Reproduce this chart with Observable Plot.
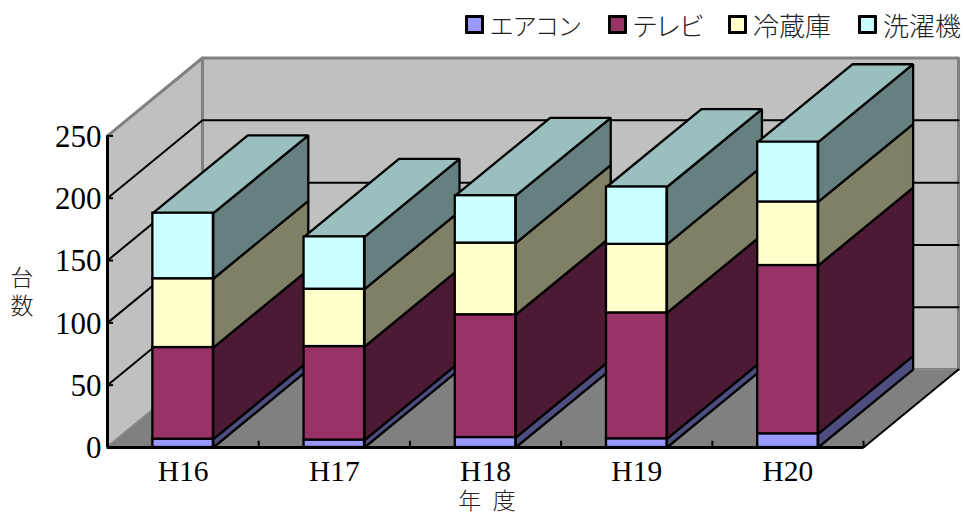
<!DOCTYPE html>
<html><head><meta charset="utf-8">
<script src="https://cdn.jsdelivr.net/npm/d3@7"></script>
<script src="https://cdn.jsdelivr.net/npm/@observablehq/plot@0.6"></script>
<style>
html,body{margin:0;padding:0;background:#fff}
#legend{height:40px;position:relative;font-family:"Noto Sans CJK JP";font-weight:300;color:#222;font-feature-settings:"palt"}
.it{position:absolute;top:9px;display:flex;align-items:center;height:30px}
.sw{width:13px;height:13px;border:3px solid #000;border-radius:1px;margin-right:6px;display:inline-block}
svg{display:block}
</style></head><body>
<div id="legend"></div><div id="chart"></div>
<script>
const years = ["H16","H17","H18","H19","H20"];
const seriesNames = ["エアコン","テレビ","冷蔵庫","洗濯機"];
const aircon = [6.7, 6, 8, 7, 11];
const tv = [73.5, 75, 98.5, 101, 135];
const fridge = [55.2, 46, 57.5, 55, 51];
const washer = [52.6, 42, 38, 46, 48];
const yTicks = [0,50,100,150,200,250];
const faceColors = ["#9999FF","#993366","#FFFFCC","#CCFFFF"];
const sideColors = ["#4D4D80","#4D1A33","#808066","#668080"];
const topColor = "#99BFBF";
const series = [aircon,tv,fridge,washer];

const depthX = 0.628, depthY = 62.5, barStart = 0.3, barEnd = 0.7, yMax = 250;

// table of stacked segments
const segments = [];
years.forEach((yr,i)=>{
  let base = 0;
  series.forEach((s,k)=>{
    segments.push({i,k,yr,y0:base,y1:base+s[i]});
    base += s[i];
  });
});

const poly = (id,fill,pts)=>pts.map(([x,y])=>({id,fill,x,y}));
const wall = [
  ...poly("back","#C0C0C0",[[depthX,depthY],[5+depthX,depthY],[5+depthX,yMax+depthY],[depthX,yMax+depthY]]),
  ...poly("left","#C0C0C0",[[0,0],[depthX,depthY],[depthX,yMax+depthY],[0,yMax]])
];
const floor = poly("floor","#808080",[[0,0],[5,0],[5+depthX,depthY],[depthX,depthY]]);
const grid = yTicks.slice(1,-1).flatMap(v=>[[0,v],[depthX,v+depthY],[5+depthX,v+depthY]].map(([x,y])=>({id:v,x,y})));
const floorEdge = [{x:5,y:0},{x:5+depthX,y:depthY}];

const line3d = (d)=>Plot.line(d,{x:"x",y:"y",z:"id",fill:"fill",stroke:"#000",strokeWidth:2.3,curve:"linear-closed",strokeLinejoin:"miter"});
const barMarks = years.flatMap((yr,i)=>{
  const segs = segments.filter(s=>s.i===i);
  const sides = segs.flatMap(s=>poly(`s${s.k}`,sideColors[s.k],[
    [i+barEnd,s.y0],[i+barEnd+depthX,s.y0+depthY],[i+barEnd+depthX,s.y1+depthY],[i+barEnd,s.y1]]));
  const t = segs[segs.length-1].y1;
  const top = poly("t",topColor,[[i+barStart,t],[i+barEnd,t],[i+barEnd+depthX,t+depthY],[i+barStart+depthX,t+depthY]]);
  return [
    line3d(sides), line3d(top),
    Plot.rectY(segs,{x1:()=>i+barStart,x2:()=>i+barEnd,y1:"y0",y2:"y1",fill:s=>faceColors[s.k],stroke:"#000",strokeWidth:2.3})
  ];
});

const svg = Plot.plot({
  width:964,height:473,
  marginLeft:107,marginRight:6,marginTop:17.5,marginBottom:66,
  style:{fontFamily:"'Liberation Serif'",background:"#fff",color:"#000",overflow:"visible"},
  x:{type:"linear",domain:[0,5+depthX],axis:null},
  y:{domain:[0,yMax+depthY],axis:null},
  color:{type:"identity"},
  marks:[
    Plot.line(wall,{x:"x",y:"y",z:"id",fill:"fill",stroke:"#808080",strokeWidth:3,curve:"linear-closed"}),
    Plot.line(floor,{x:"x",y:"y",z:"id",fill:"fill",stroke:"#8c8c8c",strokeWidth:1,curve:"linear-closed"}),
    Plot.line(grid,{x:"x",y:"y",z:"id",stroke:"#000",strokeWidth:2}),
    Plot.line(floorEdge,{x:"x",y:"y",stroke:"#000",strokeWidth:2}),
    ...barMarks,
    Plot.ruleX([0],{y1:0,y2:yMax,stroke:"#000",strokeWidth:3}),
    Plot.ruleY([0],{x1:0,x2:5,stroke:"#000",strokeWidth:3}),
    Plot.ruleY(yTicks,{x1:0,x2:0.04,stroke:"#000",strokeWidth:2}),
    Plot.ruleX([1,2,3,4,5],{y1:0,y2:5,stroke:"#000",strokeWidth:2}),
    Plot.axisY({ticks:yTicks,tickSize:0,tickPadding:6,fontSize:31,dy:1,label:null,tickFormat:d=>d}),
    Plot.axisX({ticks:years.map((_,i)=>i+0.5),tickSize:0,tickPadding:13,fontSize:29.5,label:null,tickFormat:d=>years[d-0.5]}),
    Plot.text(["台\n数"],{frameAnchor:"left",dx:-97,dy:38,fontSize:23,lineHeight:1.22,fontFamily:"'Noto Sans CJK JP'",fontWeight:300,fill:"#222"}),
    Plot.text(["年\u2002度"],{frameAnchor:"bottom",dx:-46,dy:61,fontSize:23,fontFamily:"'Noto Sans CJK JP'",fontWeight:300,fill:"#222"})
  ]
});
document.getElementById("chart").append(svg);

const lefts = [465,608,728,858];
const legendSizes = [24.3,26,26,26];
const lg = document.getElementById("legend");
seriesNames.forEach((n,k)=>{
  const it = document.createElement("div");
  it.className="it"; it.style.left=lefts[k]+"px"; it.style.fontSize=legendSizes[k]+"px";
  const sw = document.createElement("span");
  sw.className="sw"; sw.style.background=faceColors[k];
  it.append(sw, document.createTextNode(n));
  lg.append(it);
});
</script>
</body></html>
